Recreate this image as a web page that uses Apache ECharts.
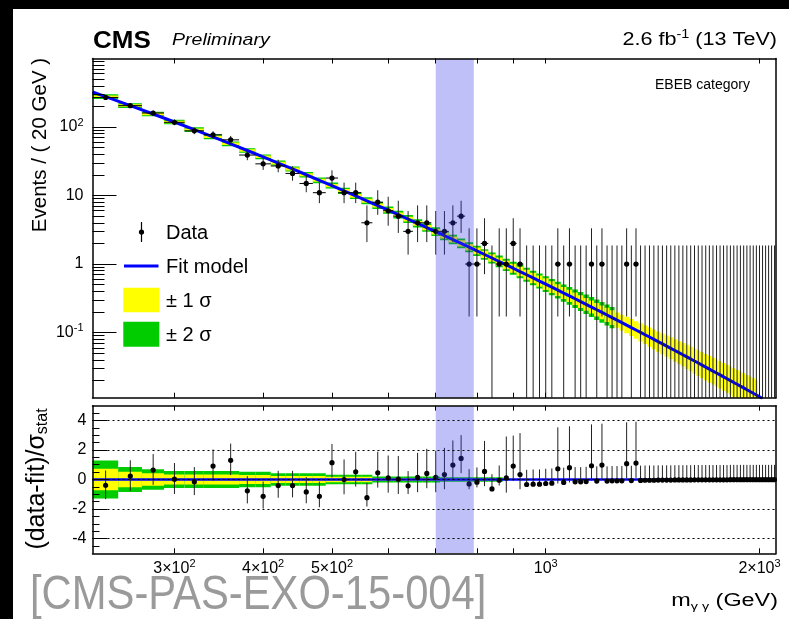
<!DOCTYPE html>
<html>
<head>
<meta charset="utf-8">
<script src="https://cdn.jsdelivr.net/npm/echarts@6/dist/echarts.min.js"></script>
<style>
html, body { margin: 0; padding: 0; background: #000; }
#chart { width: 789px; height: 619px; }
</style>
</head>
<body>
<div id="chart"></div>
<script>
// binning: Events / (20 GeV), first bin 230-250
var binLow = 230, binWidth = 20;

// observed events per bin (240 ... 2100 GeV)
var counts = [270, 205, 160, 117, 88, 77, 65, 39, 29, 27, 21, 15, 11, 18, 11, 11, 4, 8, 6, 5,
  3, 4, 4, 3, 3, 4, 5, 1, 1, 2, 0, 1, 1, 2, 1, 0, 0, 0, 0, 0,
  1, 0, 1, 0, 0, 0, 1, 0, 1, 0, 0, 0, 0, 1, 0, 1,
  0, 0, 0, 0, 0, 0, 0, 0, 0, 0, 0, 0, 0, 0, 0, 0, 0, 0, 0, 0,
  0, 0, 0, 0, 0, 0, 0, 0, 0, 0, 0, 0, 0, 0, 0, 0, 0, 0];

// (data-fit)/sigma_stat per bin
var pulls = [-0.39, 0.23, 0.64, 0.02, -0.16, 0.91, 1.30, -0.77, -1.14, -0.41, -0.41, -0.84, -1.14, 1.14, 0.0, 0.52, -1.23, 0.45, 0.11, 0.02,
  -0.43, 0.14, 0.41, 0.14, 0.34, 0.98, 1.43, -0.30, -0.18, 0.55, -0.64, -0.05, 0.11, 0.91, 0.34, -0.34, -0.32, -0.32, -0.27, -0.25,
  0.73, -0.20, 0.80, -0.16, -0.16, -0.14, 0.93, -0.11, 0.98, -0.11, -0.09, -0.09, -0.09, 1.07, -0.07, 1.11,
  -0.06, -0.05, -0.05, -0.05, -0.04, -0.04, -0.04, -0.04, -0.03, -0.03, -0.03, -0.03, -0.03, -0.02, -0.02, -0.02, -0.02, -0.02,
  -0.02, -0.02, -0.02, -0.02, -0.02, -0.01, -0.01, -0.01, -0.01, -0.01, -0.01, -0.01, -0.01, -0.01, -0.01, -0.01, -0.01, -0.01, -0.01, -0.01];

// fit model at bin centres (240 ... 1980 GeV)
var fitY = [277.5, 205.5, 154.8, 118.3, 91.6, 71.8, 56.8, 45.4, 36.7, 29.8,
  24.4, 20.1, 16.7, 13.96, 11.73, 9.90, 8.39, 7.15, 6.12, 5.26,
  4.53, 3.92, 3.41, 2.97, 2.60, 2.28, 2.00, 1.76, 1.557, 1.379,
  1.225, 1.090, 0.972, 0.869, 0.777, 0.698, 0.627, 0.564, 0.509, 0.460,
  0.4164, 0.3772, 0.3424, 0.3112, 0.2833, 0.2582, 0.2357, 0.2153, 0.197, 0.1805,
  0.1655, 0.1519, 0.1397, 0.1285, 0.1183, 0.1091, 0.1007, 0.0930, 0.0860, 0.0796,
  0.0737, 0.0684, 0.0634, 0.0589, 0.0548, 0.0509, 0.0474, 0.0442, 0.0412, 0.0384,
  0.0359, 0.0335, 0.0313, 0.0293, 0.0274, 0.0257, 0.0241, 0.0226, 0.0212, 0.0199,
  0.0187, 0.01757, 0.01652, 0.01555, 0.01464, 0.01379, 0.01299, 0.01225];
var fitStart = [230, 324.7];
var fitEnd = [[2000, 0.01156], [2020, 0.01091]];

// fit uncertainty band, half width in decades
var sig1 = [0.018, 0.018, 0.018, 0.018, 0.018, 0.018, 0.018, 0.018, 0.018,
  0.02, 0.021, 0.022, 0.023, 0.025, 0.026, 0.027, 0.028, 0.029, 0.03,
  0.032, 0.034, 0.036, 0.038, 0.04, 0.042, 0.044, 0.046, 0.048, 0.05,
  0.053, 0.056, 0.059, 0.062, 0.065, 0.069, 0.073, 0.077, 0.081, 0.085,
  0.086, 0.087, 0.088, 0.089, 0.09, 0.092, 0.094, 0.096, 0.098, 0.1,
  0.104, 0.108, 0.112, 0.116, 0.12, 0.124, 0.128, 0.132, 0.136, 0.14,
  0.144, 0.148, 0.152, 0.156, 0.16, 0.164, 0.168, 0.172, 0.176, 0.18, 0.184, 0.188,
  0.19, 0.192, 0.194, 0.196, 0.198, 0.2, 0.202, 0.204, 0.206, 0.208, 0.21, 0.212, 0.214, 0.216, 0.218, 0.22, 0.22];
var sig2 = [0.034, 0.034, 0.034, 0.034, 0.034, 0.034, 0.034, 0.034, 0.034,
  0.036, 0.038, 0.04, 0.042, 0.044, 0.046, 0.048, 0.05, 0.052, 0.054,
  0.056, 0.058, 0.06, 0.062, 0.064, 0.066, 0.068, 0.07, 0.072, 0.075,
  0.078, 0.082, 0.086, 0.09, 0.094, 0.098, 0.102, 0.106, 0.11, 0.114,
  0.118, 0.122, 0.126, 0.13, 0.134, 0.138, 0.142, 0.146, 0.15, 0.152,
  0.154, 0.156];

// band in the ratio panel (240 ... 860 GeV), in units of sigma_stat
var pullBand1 = [0.72, 0.53, 0.42, 0.34, 0.34, 0.34, 0.34, 0.30, 0.30, 0.23, 0.23, 0.23, 0.23, 0.18, 0.18, 0.18, 0.18,
  0.11, 0.11, 0.11, 0.11, 0.11, 0.11, 0.11, 0.07, 0.07, 0.07, 0.07, 0.07, 0.07, 0.07, 0.07];
var pullBand2 = [1.28, 0.85, 0.69, 0.57, 0.57, 0.57, 0.57, 0.53, 0.53, 0.42, 0.42, 0.42, 0.42, 0.32, 0.32, 0.32, 0.32,
  0.20, 0.20, 0.20, 0.20, 0.20, 0.20, 0.20, 0.15, 0.15, 0.15, 0.15, 0.15, 0.15, 0.15, 0.15];

var signalWindow = [700, 792];
var xTicks = [300, 400, 500, 600, 700, 800, 900, 1000, 2000];
var xLabels = [300, 400, 500, 1000, 2000];
var yLabelsTop = [0.1, 1, 10, 100];
var yLabelsBottom = [-4, -2, 0, 2, 4];

var xMin = 230, xMax = 2110, topMin = 0.0112, topMax = 1000;
var F = 'Liberation Sans, Arial, sans-serif';
var GREEN = '#00cc00', YELLOW = '#ffff00', BLUE = '#0000ff';

function binCenter(i) { return binLow + binWidth * (i + 0.5); }
function poisLo(n) { return n <= 0 ? 0 : n * Math.pow(1 - 1 / (9 * n) - 1 / (3 * Math.sqrt(n)), 3); }
function poisHi(n) { return n + 1 + Math.sqrt(n + 0.75); }

var minorTop = [];
[0.01, 0.1, 1, 10, 100].forEach(function (d) {
  for (var k = 2; k <= 9; k++) minorTop.push(+(d * k).toPrecision(3));
});
var minorBottom = [-4.5, -3.5, -3, -2.5, -1.5, -1, -0.5, 0.5, 1, 1.5, 2.5, 3, 3.5, 4.5];

var dataPts = counts.map(function (n, i) { return [binCenter(i), n, poisLo(n), poisHi(n)]; });
var bandPts = fitY.map(function (f, i) { return [binCenter(i), f, sig1[i], sig2[i] || 0]; });
var fitLine = [fitStart].concat(fitY.map(function (f, i) { return [binCenter(i), f]; })).concat(fitEnd);
var pullPts = pulls.map(function (p, i) {
  var n = counts[i], lo = poisLo(n), hi = poisHi(n), up, dn;
  if (p >= 0 && n > 0) { dn = 1; up = (hi - n) / (n - lo); }
  else { up = 1; dn = n > 0 ? (n - lo) / (hi - n) : 0; }
  return [binCenter(i), p, p - dn, p + up];
});
var pullBandPts = pullBand1.map(function (s, i) { return [binCenter(i), 0, s, pullBand2[i]]; });

var supRich = {
  b: { fontSize: 16, fontFamily: F, color: '#000', lineHeight: 20 },
  s: { fontSize: 11, fontFamily: F, color: '#000', lineHeight: 11, verticalAlign: 'top' }
};
function xFmt(v) {
  var m = { 300: '{b|3×10}{s|2}', 400: '{b|4×10}{s|2}', 500: '{b|5×10}{s|2}', 1000: '{b|10}{s|3}', 2000: '{b|2×10}{s|3}' };
  return m[Math.round(v)] || '';
}
function yFmt(v) {
  var e = Math.round(Math.log10(v));
  if (e === 0) return '{b|1}';
  if (e === 1) return '{b|10}';
  return '{b|10}{s|' + (e < 0 ? '-' : '') + Math.abs(e) + '}';
}

function rectBetween(api, p0, p1, fill) {
  var a = api.coord(p0), b = api.coord(p1);
  return { type: 'rect', shape: { x: Math.min(a[0], b[0]), y: Math.min(a[1], b[1]), width: Math.abs(b[0] - a[0]), height: Math.abs(b[1] - a[1]) }, style: { fill: fill } };
}

function logBand(params, api) {
  var m = api.value(0), f = api.value(1), s1 = api.value(2), s2 = api.value(3), h = binWidth / 2;
  var ch = [];
  if (s2 > 0) ch.push(rectBetween(api, [m - h, f * Math.pow(10, s2)], [m + h, f * Math.pow(10, -s2)], GREEN));
  ch.push(rectBetween(api, [m - h, f * Math.pow(10, s1)], [m + h, f * Math.pow(10, -s1)], YELLOW));
  return { type: 'group', children: ch };
}
function linBand(params, api) {
  var m = api.value(0), s1 = api.value(2), s2 = api.value(3), h = binWidth / 2;
  return { type: 'group', children: [
    rectBetween(api, [m - h, s2], [m + h, -s2], GREEN),
    rectBetween(api, [m - h, s1], [m + h, -s1], YELLOW)
  ] };
}
function dataBars(params, api) {
  var m = api.value(0), n = api.value(1), lo = api.value(2), hi = api.value(3);
  var t = api.coord([m, hi]), b = api.coord([m, lo > 0 ? lo : topMin / 2]);
  var ch = [{ type: 'line', shape: { x1: t[0], y1: t[1], x2: b[0], y2: b[1] }, style: { stroke: '#222', lineWidth: 1 } }];
  if (n > 0) {
    var c = api.coord([m, n]), l = api.coord([m - binWidth / 2, n]), r = api.coord([m + binWidth / 2, n]);
    ch.push({ type: 'line', shape: { x1: l[0], y1: c[1], x2: r[0], y2: c[1] }, style: { stroke: '#000', lineWidth: 1 } });
    ch.push({ type: 'circle', shape: { cx: c[0], cy: c[1], r: 2.6 }, style: { fill: '#000' } });
  }
  return { type: 'group', children: ch };
}
function pullBars(params, api) {
  var m = api.value(0), p = api.value(1);
  var t = api.coord([m, api.value(3)]), b = api.coord([m, api.value(2)]), c = api.coord([m, p]);
  return { type: 'group', children: [
    { type: 'line', shape: { x1: t[0], y1: t[1], x2: b[0], y2: b[1] }, style: { stroke: '#222', lineWidth: 1 } },
    { type: 'circle', shape: { cx: c[0], cy: c[1], r: 2.6 }, style: { fill: '#000' } }
  ] };
}
function windowRect(yLo, yHi) {
  return function (params, api) {
    return rectBetween(api, [api.value(0), yHi], [api.value(1), yLo], 'rgba(60,60,235,0.32)');
  };
}

var gridL = 92.5, gridW = 683.5;
function xAxisDef(grid, pos, labels) {
  return {
    type: 'log', gridIndex: grid, position: pos, min: xMin, max: xMax, z: 8,
    axisLine: { show: true, onZero: false, lineStyle: { color: '#000', width: 1.5 } },
    axisTick: { show: true, inside: true, length: 5, customValues: xTicks, lineStyle: { color: '#000', width: 1 } },
    axisLabel: labels ? { show: true, customValues: xLabels, formatter: xFmt, rich: supRich, margin: 5 } : { show: false },
    splitLine: { show: false }, minorTick: { show: false }
  };
}
function yAxisDef(o) {
  var a = {
    gridIndex: o.grid, position: o.pos || 'left', type: o.type, min: o.min, max: o.max, z: 8,
    axisLine: { show: !!o.line, onZero: false, lineStyle: { color: '#000', width: 1.5 } },
    axisTick: o.ticks ? { show: true, inside: true, length: o.len, customValues: o.ticks, lineStyle: { color: '#000', width: 1 } } : { show: false },
    axisLabel: o.labels ? { show: true, customValues: o.labels, formatter: o.fmt, rich: supRich, margin: o.margin } : { show: false },
    splitLine: o.split ? { show: true, lineStyle: { color: '#000', width: 1, type: [2, 3] } } : { show: false }
  };
  if (o.logBase) a.logBase = 10;
  return a;
}

var chart = echarts.init(document.getElementById('chart'), null, { renderer: 'canvas' });

var option = {
  animation: false,
  backgroundColor: '#fff',
  grid: [
    { left: gridL, top: 58.5, width: gridW, height: 339.2, containLabel: false, outerBoundsMode: 'none' },
    { left: gridL, top: 405.7, width: gridW, height: 147.6, containLabel: false, outerBoundsMode: 'none' }
  ],
  xAxis: [xAxisDef(0, 'bottom', false), xAxisDef(0, 'top', false), xAxisDef(1, 'bottom', true), xAxisDef(1, 'top', false)],
  yAxis: [
    yAxisDef({ grid: 0, type: 'log', logBase: true, min: topMin, max: topMax, line: true, ticks: yLabelsTop, len: 24, labels: yLabelsTop, fmt: yFmt, margin: 9 }),
    yAxisDef({ grid: 0, type: 'log', logBase: true, min: topMin, max: topMax, ticks: minorTop, len: 12 }),
    yAxisDef({ grid: 0, type: 'log', logBase: true, pos: 'right', min: topMin, max: topMax, line: true }),
    yAxisDef({ grid: 1, type: 'value', min: -5, max: 5, line: true, ticks: yLabelsBottom, len: 15, labels: yLabelsBottom, fmt: function (v) { return '{b|' + v + '}'; }, margin: 6, split: true }),
    yAxisDef({ grid: 1, type: 'value', min: -5, max: 5, ticks: minorBottom, len: 7 }),
    yAxisDef({ grid: 1, type: 'value', pos: 'right', min: -5, max: 5, line: true })
  ],
  series: [
    { type: 'custom', name: 'band', xAxisIndex: 0, yAxisIndex: 0, data: bandPts, renderItem: logBand, encode: { x: 0, y: 1 }, clip: true, z: 2, silent: true },
    { type: 'line', name: 'Fit model', xAxisIndex: 0, yAxisIndex: 0, data: fitLine, showSymbol: false, symbol: 'none', clip: true, z: 3,
      lineStyle: { color: BLUE, width: 3 } },
    { type: 'custom', name: 'Data', xAxisIndex: 0, yAxisIndex: 0, data: dataPts, renderItem: dataBars, encode: { x: 0, y: 3 }, clip: true, z: 4, silent: true },
    { type: 'custom', name: 'window', xAxisIndex: 0, yAxisIndex: 0, data: [signalWindow], renderItem: windowRect(topMin, topMax), encode: { x: 0 }, clip: true, z: 6, silent: true },

    { type: 'custom', name: 'pullBand', xAxisIndex: 2, yAxisIndex: 3, data: pullBandPts, renderItem: linBand, encode: { x: 0, y: 1 }, clip: true, z: 2, silent: true },
    { type: 'line', name: 'zero', xAxisIndex: 2, yAxisIndex: 3, data: [[xMin, 0], [xMax, 0]], showSymbol: false, symbol: 'none', z: 3,
      lineStyle: { color: BLUE, width: 2.5 } },
    { type: 'custom', name: 'pulls', xAxisIndex: 2, yAxisIndex: 3, data: pullPts, renderItem: pullBars, encode: { x: 0, y: 1 }, clip: true, z: 4, silent: true },
    { type: 'custom', name: 'window2', xAxisIndex: 2, yAxisIndex: 3, data: [signalWindow], renderItem: windowRect(-5, 5), encode: { x: 0 }, clip: true, z: 6, silent: true }
  ],
  graphic: [
    { type: 'rect', shape: { x: 0, y: 0, width: 789, height: 9 }, style: { fill: '#000' }, z: 100 },
    { type: 'rect', shape: { x: 0, y: 0, width: 13, height: 619 }, style: { fill: '#000' }, z: 100 },
    { type: 'text', x: 93, y: 41.5, scaleX: 1.13, style: { text: 'CMS', fontFamily: F, fontWeight: 'bold', fontSize: 23, fill: '#000', align: 'left', verticalAlign: 'middle' }, z: 100 },
    { type: 'text', x: 172, y: 40, scaleX: 1.15, style: { text: 'Preliminary', fontFamily: F, fontStyle: 'italic', fontSize: 17, fill: '#000', align: 'left', verticalAlign: 'middle' }, z: 100 },
    { type: 'text', x: 777, y: 40, scaleX: 1.2, style: { text: '{a|2.6 fb}{s|-1}{a| (13 TeV)}', align: 'right', verticalAlign: 'middle',
      rich: { a: { fontFamily: F, fontSize: 18, lineHeight: 22, fill: '#000' }, s: { fontFamily: F, fontSize: 12, lineHeight: 12, verticalAlign: 'top', fill: '#000' } } }, z: 100 },
    { type: 'text', x: 655, y: 85, style: { text: 'EBEB category', fontFamily: F, fontSize: 14, fill: '#000', align: 'left', verticalAlign: 'middle' }, z: 100 },
    { type: 'text', x: 40, y: 145, rotation: Math.PI / 2, style: { text: 'Events / ( 20 GeV )', fontFamily: F, fontSize: 20.5, fill: '#000', align: 'center', verticalAlign: 'middle' }, z: 100 },
    { type: 'text', x: 37, y: 479, rotation: Math.PI / 2, style: { text: '{a|(data-fit)/σ}{s|stat}', align: 'center', verticalAlign: 'middle',
      rich: { a: { fontFamily: F, fontSize: 25, lineHeight: 28, fill: '#000' }, s: { fontFamily: F, fontSize: 16, lineHeight: 16, verticalAlign: 'bottom', fill: '#000' } } }, z: 100 },
    // legend
    { type: 'line', shape: { x1: 141.5, y1: 222, x2: 141.5, y2: 242 }, style: { stroke: '#000', lineWidth: 1.2 }, z: 100 },
    { type: 'circle', shape: { cx: 141.5, cy: 232, r: 2.6 }, style: { fill: '#000' }, z: 100 },
    { type: 'text', x: 166, y: 233, style: { text: 'Data', fontFamily: F, fontSize: 20, fill: '#000', align: 'left', verticalAlign: 'middle' }, z: 100 },
    { type: 'line', shape: { x1: 124, y1: 266, x2: 158.5, y2: 266 }, style: { stroke: BLUE, lineWidth: 3 }, z: 100 },
    { type: 'text', x: 166, y: 267, style: { text: 'Fit model', fontFamily: F, fontSize: 20, fill: '#000', align: 'left', verticalAlign: 'middle' }, z: 100 },
    { type: 'rect', shape: { x: 123.3, y: 287.7, width: 36, height: 24.6 }, style: { fill: YELLOW }, z: 100 },
    { type: 'text', x: 166, y: 301, style: { text: '± 1 σ', fontFamily: F, fontSize: 20, fill: '#000', align: 'left', verticalAlign: 'middle' }, z: 100 },
    { type: 'rect', shape: { x: 123.3, y: 321.7, width: 36, height: 25 }, style: { fill: GREEN }, z: 100 },
    { type: 'text', x: 166, y: 335, style: { text: '± 2 σ', fontFamily: F, fontSize: 20, fill: '#000', align: 'left', verticalAlign: 'middle' }, z: 100 },
    // axis title and note
    { type: 'text', x: 778, y: 601, scaleX: 1.3, style: { text: '{a|m}{s|γ γ}{a| (GeV)}', align: 'right', verticalAlign: 'middle',
      rich: { a: { fontFamily: F, fontSize: 18, lineHeight: 22, fill: '#000' }, s: { fontFamily: F, fontSize: 11, lineHeight: 11, verticalAlign: 'bottom', fill: '#000' } } }, z: 100 },
    { type: 'text', x: 30, y: 596, scaleX: 0.87, style: { text: '[CMS-PAS-EXO-15-004]', fontFamily: F, fontSize: 48, fill: '#9a9a9a', align: 'left', verticalAlign: 'middle' }, z: 100 }
  ]
};

chart.setOption(option);
</script>
</body>
</html>
